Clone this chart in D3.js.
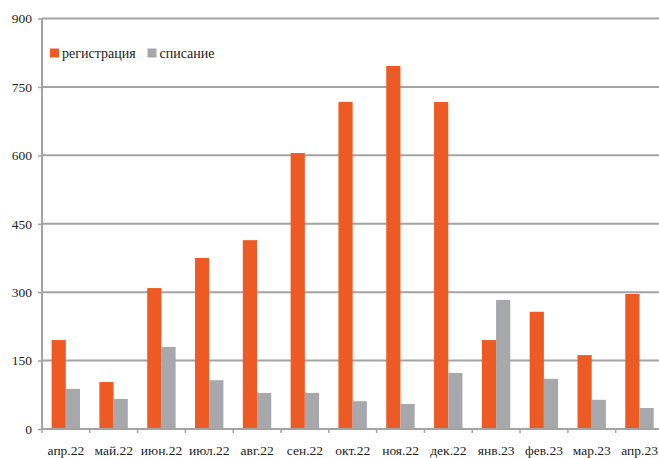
<!DOCTYPE html>
<html><head><meta charset="utf-8">
<script src="https://cdn.jsdelivr.net/npm/d3@7"></script>
</head><body style="margin:0;background:#fff">
<svg id="c" width="659" height="458" style="display:block"></svg>
<script>
const categories = ["апр.22","май.22","июн.22","июл.22","авг.22","сен.22","окт.22","ноя.22","дек.22","янв.23","фев.23","мар.23","апр.23"];
const registration = [195,103,309,375,414,605,717,796,717,195,257,162,296];
const writeoff = [88,66,180,107,79,79,61,55,123,283,110,64,46];
const seriesNames = ["регистрация","списание"];
const colors = ["#EE5A24","#A7A8AB"];
const yTicks = [0,150,300,450,600,750,900];
const FONT = "'Liberation Serif', 'Times New Roman', serif";

const svg = d3.select("#c");
const x0 = d3.scaleBand().domain(categories).range([42,663.5]).padding(0);
const x1 = d3.scaleBand().domain(seriesNames).range([9.6, 38]).padding(0);
const y = d3.scaleLinear().domain([0,900]).range([429,18.5]);

svg.append("g").selectAll("line").data(yTicks.filter(d=>d>0)).join("line")
  .attr("x1",42).attr("x2",663).attr("y1",d=>y(d)).attr("y2",d=>y(d))
  .attr("stroke","#a3a3a5").attr("stroke-width",2);

const data = categories.map((c,i)=>({c, vals:[registration[i],writeoff[i]]}));
const g = svg.append("g").selectAll("g").data(data).join("g")
  .attr("transform",d=>`translate(${x0(d.c)},0)`);
g.selectAll("rect").data(d=>d.vals.map((v,j)=>({v,s:seriesNames[j],j}))).join("rect")
  .attr("x",d=>x1(d.s)).attr("width",x1.bandwidth())
  .attr("y",d=>y(d.v)).attr("height",d=>y(0)-y(d.v))
  .attr("fill",d=>colors[d.j]);

const ya = svg.append("g").attr("transform","translate(42,0)")
  .call(d3.axisLeft(y).tickValues(yTicks).tickSize(4).tickPadding(6));
ya.attr("font-family","serif");
ya.select(".domain").attr("stroke","#a3a3a5").attr("stroke-width",2).attr("d","M0,18.5V430");
ya.selectAll(".tick line").attr("stroke","#a3a3a5").attr("stroke-width",1.5);
ya.selectAll("text").attr("fill","#222").attr("font-family","serif")
  .style("font-family",FONT,"important").style("font-size","13.5px");

const xa = svg.append("g").attr("transform","translate(0,429)")
  .call(d3.axisBottom(x0).tickSize(0).tickPadding(16));
xa.attr("font-family","serif");
xa.select(".domain").attr("stroke","#a3a3a5").attr("stroke-width",2).attr("d","M41,0H663");
xa.selectAll("text").attr("fill","#222").attr("font-family","serif")
  .style("font-family",FONT,"important").style("font-size","13.5px");
svg.append("g").selectAll("line").data(categories).join("line")
  .attr("x1",d=>x0(d)).attr("x2",d=>x0(d)).attr("y1",429).attr("y2",433)
  .attr("stroke","#a3a3a5").attr("stroke-width",1.5);

const lg = svg.append("g");
const lx = [50,147.5];
seriesNames.forEach((s,i)=>{
  lg.append("rect").attr("x",lx[i]).attr("y",48.5).attr("width",9).attr("height",9).attr("fill",colors[i]);
  lg.append("text").attr("x",lx[i]+12).attr("y",58).attr("fill","#222").attr("font-family","serif")
    .style("font-family",FONT,"important").style("font-size","14px").text(s);
});
</script></body></html>
